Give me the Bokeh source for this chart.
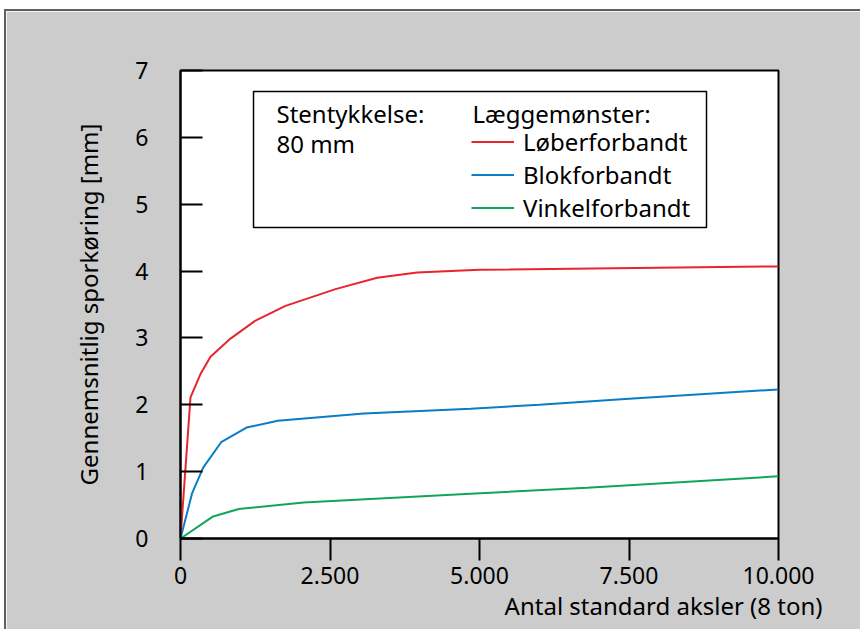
from bokeh.plotting import figure
from bokeh.models import (FixedTicker, BoxAnnotation, Label, Legend, LegendItem, Range1d, Title)
from bokeh.embed import file_html
from bokeh.resources import INLINE

# ---- data ----
red_x = [0, 167, 334, 502, 836, 1254, 1756, 2592, 3289, 3957, 5000, 10000]
red_y = [0, 2.11, 2.46, 2.72, 2.99, 3.26, 3.48, 3.73, 3.90, 3.98, 4.02, 4.07]

blue_x = [0, 195, 379, 680, 1104, 1627, 3066, 4849, 6000, 7500, 10000]
blue_y = [0, 0.68, 1.06, 1.44, 1.66, 1.76, 1.87, 1.94, 2.00, 2.09, 2.23]

green_x = [0, 546, 975, 2062, 4849, 6800, 10000]
green_y = [0, 0.33, 0.44, 0.54, 0.67, 0.76, 0.93]

x_ticks = [0, 2500, 5000, 7500, 10000]
x_tick_labels = ["0", "2.500", "5.000", "7.500", "10.000"]
y_ticks = [0, 1, 2, 3, 4, 5, 6, 7]

series_names = ["Løberforbandt", "Blokforbandt", "Vinkelforbandt"]
series_colors = ["#e8242d", "#0a7dc6", "#10a65a"]

FONT = "Noto Sans"
FS = "24px"
TFS = "23px"

p = figure(width=856, height=620, output_backend="svg", toolbar_location=None,
           x_range=Range1d(0, 10000), y_range=Range1d(0, 7),
           min_border_left=174, min_border_right=84, min_border_top=59,
           min_border_bottom=93)
p.styles = {"margin-left": "4px", "margin-top": "9px",
            "border-top": "2px solid #5f5f5f", "border-left": "2px solid #5f5f5f"}

p.border_fill_color = "#cccccc"
p.background_fill_color = "white"
p.outline_line_color = "black"
p.outline_line_width = 2
p.xgrid.visible = False
p.ygrid.visible = False

# x axis
xa = p.xaxis[0]
xa.ticker = FixedTicker(ticks=x_ticks)
xa.major_label_overrides = {t: l for t, l in zip(x_ticks, x_tick_labels)}
xa.major_tick_out = 22
xa.major_tick_in = 0
xa.minor_tick_out = 0
xa.minor_tick_in = 0
xa.major_tick_line_width = 2
xa.axis_line_width = 2
xa.major_label_standoff = 6
xa.major_label_text_font = FONT
xa.major_label_text_font_size = TFS
xa.major_label_text_color = "black"

# x axis title, right-aligned past the frame as in the reference
p.add_layout(Title(text="Antal standard aksler (8 ton)", align="right", offset=-44,
                   standoff=0, text_font=FONT, text_font_size=FS,
                   text_font_style="normal", text_color="black"), "below")

# y axis
ya = p.yaxis[0]
ya.ticker = FixedTicker(ticks=y_ticks)
ya.major_tick_in = 22
ya.major_tick_out = 0
ya.minor_tick_out = 0
ya.minor_tick_in = 0
ya.major_tick_line_width = 2
ya.axis_line_width = 2
ya.major_label_standoff = 32
ya.major_label_text_font = FONT
ya.major_label_text_font_size = TFS
ya.major_label_text_color = "black"
ya.axis_label = "Gennemsnitlig sporkøring [mm]"
ya.axis_label_text_font = FONT
ya.axis_label_text_font_size = FS
ya.axis_label_text_font_style = "normal"
ya.axis_label_text_color = "black"
ya.axis_label_standoff = 27

# curves
r_red = p.line(red_x, red_y, line_color=series_colors[0], line_width=2)
r_blue = p.line(blue_x, blue_y, line_color=series_colors[1], line_width=2)
r_green = p.line(green_x, green_y, line_color=series_colors[2], line_width=2)

# legend box
p.add_layout(BoxAnnotation(left=1221, right=8796, bottom=4.651, top=6.686,
                           fill_color="white", fill_alpha=1.0,
                           line_color="black", line_alpha=1.0, line_width=1.5))

for txt, x, y in [("Stentykkelse:", 1605, 6.357), ("80 mm", 1605, 5.908),
                  ("Læggemønster:", 4883, 6.357)]:
    p.add_layout(Label(x=x, y=y, text=txt, text_align="left", text_baseline="middle",
                       text_font=FONT, text_font_size=FS, text_color="black"))

legend = Legend(items=[LegendItem(label=series_names[0], renderers=[r_red]),
                       LegendItem(label=series_names[1], renderers=[r_blue]),
                       LegendItem(label=series_names[2], renderers=[r_green])],
                location=(291, 314), orientation="vertical",
                glyph_width=43, glyph_height=31, label_height=31,
                label_standoff=9, spacing=0, padding=0, margin=0,
                border_line_color=None, background_fill_alpha=0,
                label_text_font=FONT, label_text_font_size=FS,
                label_text_line_height=1.0,
                label_text_color="black")
p.add_layout(legend)

open("out.html", "w").write(file_html(p, INLINE))
